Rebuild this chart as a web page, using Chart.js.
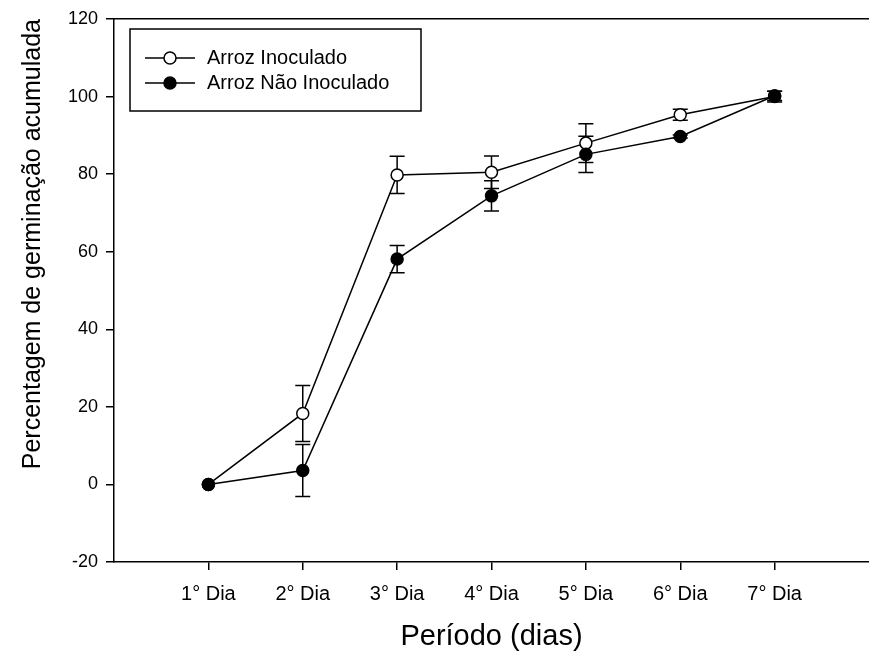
<!DOCTYPE html>
<html>
<head>
<meta charset="utf-8">
<script src="https://cdn.jsdelivr.net/npm/chart.js@4.4.1/dist/chart.umd.min.js"></script>
<style>
    html, body { margin: 0; padding: 0; background: #fff; }
    #wrap { width: 869px; height: 657px; }
</style>
</head>
<body>
<div id="wrap"><canvas id="myChart" width="869" height="657"></canvas></div>
<script>
// Data
const days = ["1° Dia", "2° Dia", "3° Dia", "4° Dia", "5° Dia", "6° Dia", "7° Dia"];
const inoculado = [0, 18.3, 79.8, 80.5, 88.0, 95.3, 100.0];
const inoculadoErr = [0, 7.2, 4.8, 4.2, 5.0, 1.4, 1.4];
const naoInoculado = [0, 3.6, 58.1, 74.4, 85.1, 89.7, 100.2];
const naoInoculadoErr = [0, 6.7, 3.5, 3.9, 4.7, 0.4, 1.2];
const yTicks = [-20, 0, 20, 40, 60, 80, 100, 120];

const FONT = "'Liberation Sans', Arial, Helvetica, sans-serif";

const toPoints = (vals) => vals.map((v, i) => ({ x: i + 1, y: v }));

// white background
const bgPlugin = {
    id: "bg",
    beforeDraw(chart) {
        const ctx = chart.ctx;
        ctx.save();
        ctx.fillStyle = "#fff";
        ctx.fillRect(0, 0, chart.width, chart.height);
        ctx.restore();
    }
};

// error bars drawn under the markers
const errorBars = {
    id: "errorBars",
    beforeDatasetsDraw(chart) {
        const ctx = chart.ctx;
        const xs = chart.scales.x;
        const ys = chart.scales.y;
        ctx.save();
        ctx.strokeStyle = "#000";
        ctx.lineWidth = 1.5;
        chart.data.datasets.forEach(ds => {
            ds.data.forEach((p, i) => {
                const e = ds.errors[i];
                if (!e) return;
                const px = xs.getPixelForValue(p.x);
                const top = ys.getPixelForValue(p.y + e);
                const bot = ys.getPixelForValue(p.y - e);
                ctx.beginPath();
                ctx.moveTo(px, top); ctx.lineTo(px, bot);
                ctx.moveTo(px - 7.5, top); ctx.lineTo(px + 7.5, top);
                ctx.moveTo(px - 7.5, bot); ctx.lineTo(px + 7.5, bot);
                ctx.stroke();
            });
        });
        ctx.restore();
    }
};

// boxed legend inside the plot
const boxLegend = {
    id: "boxLegend",
    afterDraw(chart) {
        const ctx = chart.ctx;
        const area = chart.chartArea;
        const left = area.left + 16;
        const top = area.top + 10;
        ctx.save();
        ctx.strokeStyle = "#000";
        ctx.lineWidth = 1.5;
        ctx.strokeRect(left, top, 291, 82);
        ctx.font = "20px " + FONT;
        ctx.textBaseline = "middle";
        ctx.fillStyle = "#000";
        const entries = [chart.data.datasets[1], chart.data.datasets[0]];
        entries.forEach((ds, k) => {
            const y = top + 29 + k * 25;
            ctx.beginPath();
            ctx.moveTo(left + 15, y);
            ctx.lineTo(left + 65, y);
            ctx.stroke();
            ctx.beginPath();
            ctx.arc(left + 40, y, 6, 0, Math.PI * 2);
            ctx.fillStyle = ds.pointBackgroundColor;
            ctx.fill();
            ctx.stroke();
            ctx.fillStyle = "#000";
            ctx.fillText(ds.label, left + 77, y);
        });
        ctx.restore();
    }
};

const ctx = document.getElementById("myChart").getContext("2d");
new Chart(ctx, {
    type: "line",
    data: {
        datasets: [
            {
                label: "Arroz Não Inoculado",
                data: toPoints(naoInoculado),
                errors: naoInoculadoErr,
                borderColor: "#000",
                borderWidth: 1.5,
                pointRadius: 6,
                pointBorderWidth: 1.5,
                pointBackgroundColor: "#000",
                pointBorderColor: "#000",
                tension: 0,
                order: 0
            },
            {
                label: "Arroz Inoculado",
                data: toPoints(inoculado),
                errors: inoculadoErr,
                borderColor: "#000",
                borderWidth: 1.5,
                pointRadius: 6,
                pointBorderWidth: 1.5,
                pointBackgroundColor: "#fff",
                pointBorderColor: "#000",
                tension: 0,
                order: 1
            }
        ]
    },
    options: {
        responsive: false,
        animation: false,
        layout: { padding: 0, autoPadding: false },
        plugins: {
            legend: { display: false },
            tooltip: { enabled: false }
        },
        scales: {
            x: {
                type: "linear",
                position: "bottom",
                min: 0,
                max: days.length + 1,
                afterBuildTicks: (scale) => {
                    scale.ticks = days.map((d, i) => ({ value: i + 1 }));
                },
                afterFit: (scale) => { scale.height = 95; },
                ticks: {
                    callback: (v) => days[v - 1],
                    color: "#000",
                    font: { family: FONT, size: 20 },
                    padding: 12,
                    maxRotation: 0,
                    autoSkip: false
                },
                grid: {
                    display: true,
                    drawOnChartArea: false,
                    drawTicks: true,
                    tickLength: 8,
                    color: "#000",
                    lineWidth: 1.5
                },
                border: { display: true, color: "#000", width: 1.5 },
                title: {
                    display: true,
                    text: "Período (dias)",
                    color: "#000",
                    font: { family: FONT, size: 29 },
                    padding: { top: 0, bottom: 3 }
                }
            },
            x2: {
                type: "linear",
                position: "top",
                min: 0,
                max: days.length + 1,
                afterFit: (scale) => { scale.height = 19; },
                ticks: { display: false },
                grid: { display: false },
                border: { display: true, color: "#000", width: 1.5 }
            },
            y: {
                min: yTicks[0],
                max: yTicks[yTicks.length - 1],
                afterBuildTicks: (scale) => {
                    scale.ticks = yTicks.map(v => ({ value: v }));
                },
                afterFit: (scale) => { scale.width = 114; },
                ticks: {
                    color: "#000",
                    font: { family: FONT, size: 18 },
                    padding: 8
                },
                grid: {
                    display: true,
                    drawOnChartArea: false,
                    drawTicks: true,
                    tickLength: 8,
                    color: "#000",
                    lineWidth: 1.5
                },
                border: { display: true, color: "#000", width: 1.5 },
                title: {
                    display: true,
                    text: "Percentagem de germinação acumulada",
                    color: "#000",
                    align: "end",
                    font: { family: FONT, size: 25 },
                    padding: { top: 18, bottom: 0 }
                }
            }
        }
    },
    plugins: [bgPlugin, errorBars, boxLegend]
});
</script>
</body>
</html>
